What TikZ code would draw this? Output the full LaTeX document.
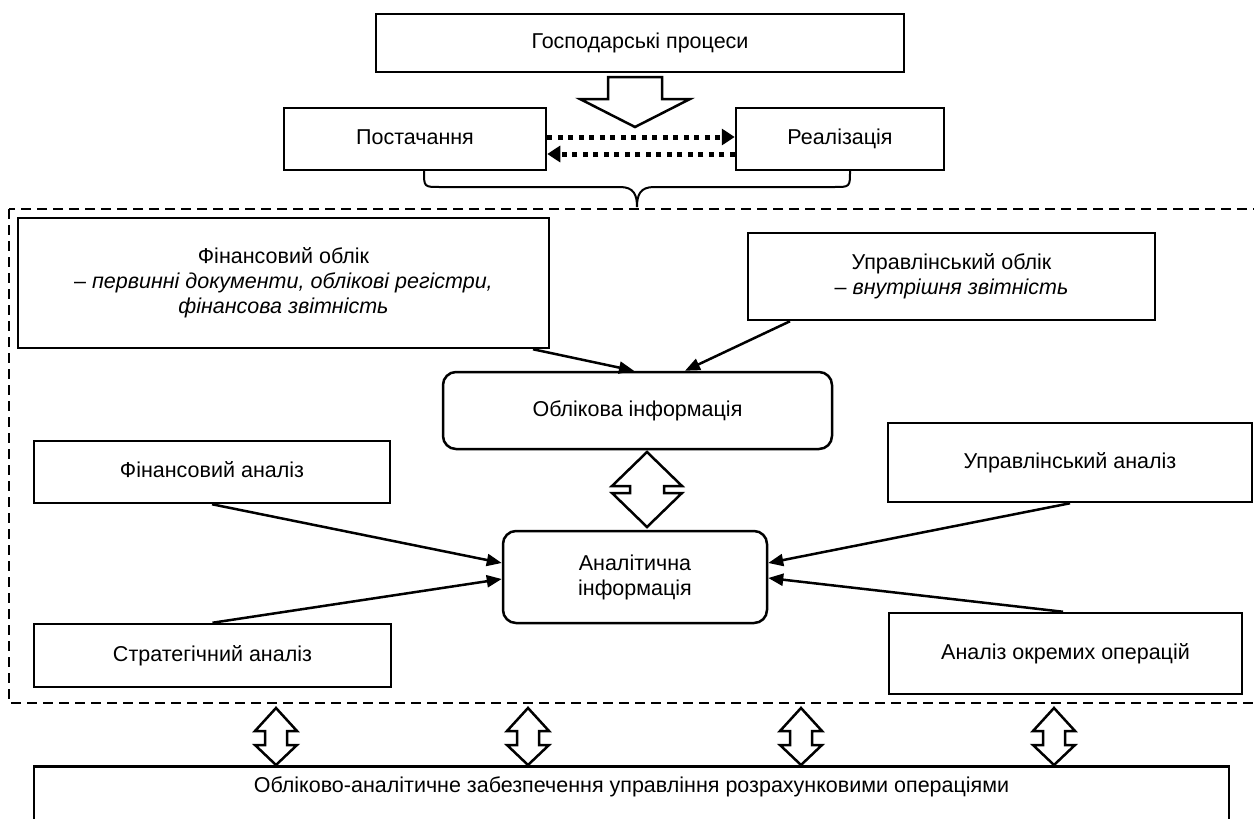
\documentclass[tikz,border=0pt]{standalone}
\usepackage{fontspec}
\setmainfont{Liberation Sans}
\usetikzlibrary{arrows.meta}
\newcommand{\hdbl}[7]{%
  \draw[hollow] (#1,#2) -- ({#1+#6},#3) -- ({#1+#7},#3) -- ({#1+#7},#4) -- ({#1+#6},#4) -- (#1,#5) -- ({#1-#6},#4) -- ({#1-#7},#4) -- ({#1-#7},#3) -- ({#1-#6},#3) -- cycle;}
\begin{document}
\begin{tikzpicture}[x=1pt,y=-1pt,
  every node/.style={font=\fontsize{21.5}{25}\selectfont, align=center, inner sep=0pt},
  sl/.style={text height=15.5pt, text depth=4.5pt},
  box/.style={draw, line width=2.5pt},
  rbox/.style={draw, line width=2.5pt, rounded corners=13pt},
  conn/.style={line width=2.5pt, -{Triangle[length=15pt,width=12pt]}},
  dotarr/.style={line width=5pt, dash pattern=on 5pt off 5.5pt, -{Triangle[length=13pt,width=16pt]}},
  hollow/.style={draw, fill=white, line width=2.5pt, line join=miter},
  frame/.style={draw, line width=2pt, dash pattern=on 10pt off 6pt}]
\useasboundingbox (0,0) rectangle (1254,819);
\fill[white] (0,0) rectangle (1254,819);

% dashed frame
\draw[frame] (9,209) rectangle (1262,703);

% top
\node[box, sl, minimum width=528pt, minimum height=58pt] (gp) at (640,43) {Господарські процеси};
\draw[hollow] (608,77) -- (662,77) -- (662,99) -- (690,99) -- (635,127) -- (580,99) -- (608,99) -- cycle;
\node[box, sl, minimum width=262pt, minimum height=62pt] (post) at (415,139) {Постачання};
\node[box, sl, minimum width=208pt, minimum height=62pt] (real) at (840,139) {Реалізація};
\draw[dotarr] ([yshift=2pt]post.east) -- ([yshift=2pt]real.west);
\draw[dotarr] ([yshift=-15pt]real.west) -- ([yshift=-15pt]post.east);

% brace
\draw[line width=2pt] (424,171) .. controls (424,187) .. (440,187) -- (620,187)
      .. controls (634,187) and (637,195) .. (637,207)
      .. controls (637,195) and (640,187) .. (654,187) -- (834,187)
      .. controls (850,187) .. (850,171);

% accounting
\node[box, minimum width=531pt, minimum height=130pt] (fo) at (283.5,283)
  {Фінансовий облік\\ – \textit{первинні документи, облікові регістри,}\\ \textit{фінансова звітність}};
\node[box, minimum width=407pt, minimum height=87pt] (uo) at (951.5,276.5)
  {Управлінський облік\\ – \textit{внутрішня звітність}};
\node[rbox, sl, minimum width=389pt, minimum height=77pt] (oi) at (637.5,410.5) {Облікова інформація};
\draw[conn] ([xshift=249.5pt]fo.south) -- ([xshift=-3.5pt]oi.north);
\draw[conn] ([xshift=-161.5pt]uo.south) -- ([xshift=47.5pt]oi.north);

% analysis
\node[rbox, minimum width=264pt, minimum height=92pt] (ai) at (635,577) {Аналітична\\ інформація};
\hdbl{647}{452}{486}{493}{527}{35}{17}
\node[box, sl, minimum width=356pt, minimum height=62pt] (fa) at (212,472) {Фінансовий аналіз};
\node[box, sl, minimum width=357pt, minimum height=63pt] (sa) at (212.5,655.5) {Стратегічний аналіз};
\node[box, sl, minimum width=364pt, minimum height=79pt] (ua) at (1070,462.5) {Управлінський аналіз};
\node[box, sl, minimum width=353pt, minimum height=81pt] (ao) at (1065.5,653.5) {Аналіз окремих операцій};
\draw[conn] (fa.south) -- ([yshift=14pt]ai.west);
\draw[conn] (sa.north) -- ([yshift=-2pt]ai.west);
\draw[conn] (ua.south) -- ([yshift=14pt]ai.east);
\draw[conn] ([xshift=-2.5pt]ao.north) -- ([yshift=-1pt]ai.east);

% bottom
\node[box, minimum width=1195pt, minimum height=75pt, anchor=north] (bot) at (631.5,765) {};
\node[sl] (bottxt) at ([yshift=-22pt]bot.north) {Обліково-аналітичне забезпечення управління розрахунковими операціями};
\hdbl{276}{708}{731}{745}{765}{21}{11}
\hdbl{528}{708}{731}{745}{765}{21}{11}
\hdbl{801}{708}{731}{745}{765}{21}{11}
\hdbl{1054}{708}{731}{745}{765}{21}{11}
\end{tikzpicture}
\end{document}
